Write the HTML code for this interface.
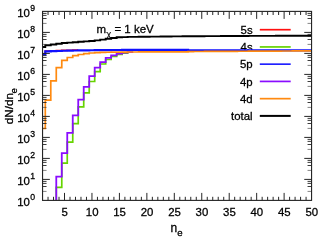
<!DOCTYPE html>
<html><head><meta charset="utf-8"><style>
html,body{margin:0;padding:0;background:#fff;}
svg{display:block;} text{stroke:#000;stroke-width:0.28px;} svg{will-change:transform;opacity:0.999;font-family:"Liberation Sans",sans-serif;}
</style></head><body>
<svg width="332" height="249" viewBox="0 0 332 249">
<rect width="332" height="249" fill="#fff"/>
<defs><clipPath id="c"><rect x="42.05" y="11.4" width="270.01" height="189.00"/></clipPath></defs>
<line x1="259.8" y1="29.70" x2="290.7" y2="29.70" stroke="#ff1010" stroke-width="1.7"/><text x="252.6" y="33.90" text-anchor="end" font-size="11.4">5s</text><line x1="259.8" y1="46.94" x2="290.7" y2="46.94" stroke="#66d400" stroke-width="1.7"/><text x="252.6" y="51.14" text-anchor="end" font-size="11.4">4s</text><line x1="259.8" y1="64.18" x2="290.7" y2="64.18" stroke="#2020ff" stroke-width="1.7"/><text x="252.6" y="68.38" text-anchor="end" font-size="11.4">5p</text><line x1="259.8" y1="81.42" x2="290.7" y2="81.42" stroke="#8a0cff" stroke-width="1.7"/><text x="252.6" y="85.62" text-anchor="end" font-size="11.4">4p</text><line x1="259.8" y1="98.66" x2="290.7" y2="98.66" stroke="#ff8a10" stroke-width="1.7"/><text x="252.6" y="102.86" text-anchor="end" font-size="11.4">4d</text><line x1="259.8" y1="115.90" x2="290.7" y2="115.90" stroke="#000" stroke-width="2.0"/><text x="252.6" y="120.10" text-anchor="end" font-size="11.4">total</text><text x="170.5" y="231.6" font-size="12">n<tspan font-size="9.6" dy="4.2">e</tspan></text><text transform="translate(13.1,124.2) rotate(-90)" font-size="11.7">dN/dn<tspan font-size="9.6" dy="4.0" dx="-0.5">e</tspan></text><text x="96.6" y="32.7" font-size="11.5">m<tspan font-size="9.6" dy="4.2" stroke-width="0.1">χ</tspan><tspan dy="-4.2"> = 1 keV</tspan></text><g clip-path="url(#c)"><path d="M56.27,200.40L56.27,187.40L61.77,187.40L61.77,163.20L67.25,163.20L67.25,142.20L72.75,142.20L72.75,123.60L78.23,123.60L78.23,106.90L83.72,106.90L83.72,92.80L89.22,92.80L89.22,81.50L94.70,81.50L94.70,71.60L100.19,71.60L100.19,64.00L105.69,64.00L105.69,59.50L111.17,59.50L111.17,56.30L116.67,56.30L116.67,54.30L122.16,54.30L122.16,53.10L127.64,53.10L127.64,52.22L133.13,52.22" fill="none" stroke="#66d400" stroke-width="1.7" stroke-linejoin="miter"/><path d="M42.55,54.00L45.29,54.00L45.29,51.00L50.78,51.00L50.78,50.80L56.27,50.80L56.27,50.60L61.77,50.60L61.77,50.35L67.25,50.35L67.25,50.20L72.75,50.20L72.75,50.10L78.23,50.10" fill="none" stroke="#ff1010" stroke-width="1.6" stroke-linejoin="miter"/><path d="M42.55,54.40L45.29,54.40L45.29,51.40L50.78,51.40L50.78,51.20L56.27,51.20L56.27,51.00L61.77,51.00L61.77,50.75L67.25,50.75L67.25,50.60L72.75,50.60L72.75,50.50L78.23,50.50L78.23,50.45L83.72,50.45L83.72,50.40L89.22,50.40L89.22,50.23L94.70,50.23L94.70,50.10L100.19,50.10L100.19,50.07L105.69,50.07L105.69,50.03L111.17,50.03L111.17,50.00L116.67,50.00L116.67,49.98L122.16,49.98L122.16,49.95L127.64,49.95L127.64,49.95L133.13,49.95L133.13,49.94L138.62,49.94L138.62,49.94L144.12,49.94L144.12,49.94L149.61,49.94L149.61,49.94L155.09,49.94L155.09,49.93L160.59,49.93L160.59,49.93L166.07,49.93L166.07,49.93L171.56,49.93L171.56,49.93L177.06,49.93L177.06,49.92L182.55,49.92L182.55,49.92L188.04,49.92L188.04,50.30L193.52,50.30L193.52,50.31L199.01,50.31L199.01,50.32L204.50,50.32L204.50,50.32L210.00,50.32L210.00,50.33L215.49,50.33L215.49,50.34L220.98,50.34L220.98,50.35L226.47,50.35L226.47,50.36L231.95,50.36L231.95,50.37L237.44,50.37L237.44,50.38L242.94,50.38L242.94,50.38L248.43,50.38L248.43,50.39L253.92,50.39L253.92,50.40L259.41,50.40L259.41,50.41L264.89,50.41L264.89,50.41L270.38,50.41L270.38,50.41L275.88,50.41L275.88,50.42L281.37,50.42L281.37,50.42L286.86,50.42L286.86,50.43L292.35,50.43L292.35,50.44L297.83,50.44L297.83,50.44L303.33,50.44L303.33,50.45L308.81,50.45L308.81,50.45L311.56,50.45" fill="none" stroke="#1010ff" stroke-width="2.2" stroke-linejoin="miter"/><path d="M56.27,200.40L56.27,176.60L61.77,176.60L61.77,153.20L67.25,153.20L67.25,132.80L72.75,132.80L72.75,115.40L78.23,115.40L78.23,99.70L83.72,99.70L83.72,86.80L89.22,86.80L89.22,76.10L94.70,76.10L94.70,67.70L100.19,67.70L100.19,62.10L105.69,62.10L105.69,57.90L111.17,57.90L111.17,55.40L116.67,55.40L116.67,53.70L122.16,53.70L122.16,52.70L127.64,52.70L127.64,52.22L133.13,52.22" fill="none" stroke="#8a0cff" stroke-width="1.8" stroke-linejoin="miter"/><path d="M42.55,128.50L45.29,128.50L45.29,100.10L50.78,100.10L50.78,80.80L56.27,80.80L56.27,67.70L61.77,67.70L61.77,60.30L67.25,60.30L67.25,57.50L72.75,57.50L72.75,55.70L78.23,55.70L78.23,54.50L83.72,54.50L83.72,53.60L89.22,53.60L89.22,53.00L94.70,53.00L94.70,52.60L100.19,52.60L100.19,52.30L105.69,52.30L105.69,52.24L111.17,52.24L111.17,52.17L116.67,52.17L116.67,52.11L122.16,52.11L122.16,52.05L127.64,52.05L127.64,52.02L133.13,52.02L133.13,51.99L138.62,51.99L138.62,51.96L144.12,51.96L144.12,51.93L149.61,51.93L149.61,51.90L155.09,51.90L155.09,51.87L160.59,51.87L160.59,51.86L166.07,51.86L166.07,51.84L171.56,51.84L171.56,51.83L177.06,51.83L177.06,51.81L182.55,51.81L182.55,51.80L188.04,51.80L188.04,51.55L193.52,51.55L193.52,51.52L199.01,51.52L199.01,51.49L204.50,51.49L204.50,51.46L210.00,51.46L210.00,51.42L215.49,51.42L215.49,51.39L220.98,51.39L220.98,51.36L226.47,51.36L226.47,51.33L231.95,51.33L231.95,51.30L237.44,51.30L237.44,51.27L242.94,51.27L242.94,51.24L248.43,51.24L248.43,51.20L253.92,51.20L253.92,51.17L259.41,51.17L259.41,51.14L264.89,51.14L264.89,51.11L270.38,51.11L270.38,51.07L275.88,51.07L275.88,51.04L281.37,51.04L281.37,51.01L286.86,51.01L286.86,50.98L292.35,50.98L292.35,50.95L297.83,50.95L297.83,50.91L303.33,50.91L303.33,50.88L308.81,50.88L308.81,50.85L311.56,50.85" fill="none" stroke="#ff8a10" stroke-width="1.7" stroke-linejoin="miter"/><path d="M42.55,47.00L45.29,47.00L45.29,45.30L50.78,45.30L50.78,44.50L56.27,44.50L56.27,43.80L61.77,43.80L61.77,43.00L67.25,43.00L67.25,42.60L72.75,42.60L72.75,42.20L78.23,42.20L78.23,41.80L83.72,41.80L83.72,41.40L89.22,41.40L89.22,41.00L94.70,41.00L94.70,40.40L100.19,40.40L100.19,39.60L105.69,39.60L105.69,38.80L111.17,38.80L111.17,38.00L116.67,38.00L116.67,37.30L122.16,37.30L122.16,37.10L127.64,37.10L127.64,36.90L133.13,36.90L133.13,36.83L138.62,36.83L138.62,36.77L144.12,36.77L144.12,36.70L149.61,36.70L149.61,36.64L155.09,36.64L155.09,36.58L160.59,36.58L160.59,36.52L166.07,36.52L166.07,36.46L171.56,36.46L171.56,36.40L177.06,36.40L177.06,36.36L182.55,36.36L182.55,36.32L188.04,36.32L188.04,36.28L193.52,36.28L193.52,36.24L199.01,36.24L199.01,36.20L204.50,36.20L204.50,36.16L210.00,36.16L210.00,36.12L215.49,36.12L215.49,36.08L220.98,36.08L220.98,36.04L226.47,36.04L226.47,36.00L231.95,36.00L231.95,35.98L237.44,35.98L237.44,35.96L242.94,35.96L242.94,35.94L248.43,35.94L248.43,35.92L253.92,35.92L253.92,35.90L259.41,35.90L259.41,35.88L264.89,35.88L264.89,35.86L270.38,35.86L270.38,35.84L275.88,35.84L275.88,35.82L281.37,35.82L281.37,35.80L286.86,35.80L286.86,35.78L292.35,35.78L292.35,35.76L297.83,35.76L297.83,35.74L303.33,35.74L303.33,35.72L308.81,35.72L308.81,35.70L311.56,35.70" fill="none" stroke="#000" stroke-width="1.9" stroke-linejoin="miter"/></g><rect x="42.55" y="11.4" width="269.01" height="189.00" fill="none" stroke="#262626" stroke-width="1.12"/><line x1="48.04" y1="200.40" x2="48.04" y2="196.80" stroke="#262626" stroke-width="1" stroke-opacity="1"/><line x1="48.04" y1="11.40" x2="48.04" y2="15.00" stroke="#262626" stroke-width="1" stroke-opacity="1"/><line x1="53.53" y1="200.40" x2="53.53" y2="196.80" stroke="#262626" stroke-width="1" stroke-opacity="1"/><line x1="53.53" y1="11.40" x2="53.53" y2="15.00" stroke="#262626" stroke-width="1" stroke-opacity="1"/><line x1="59.02" y1="200.40" x2="59.02" y2="196.80" stroke="#262626" stroke-width="1" stroke-opacity="1"/><line x1="59.02" y1="11.40" x2="59.02" y2="15.00" stroke="#262626" stroke-width="1" stroke-opacity="1"/><line x1="64.51" y1="200.40" x2="64.51" y2="192.90" stroke="#262626" stroke-width="1" stroke-opacity="1"/><line x1="64.51" y1="11.40" x2="64.51" y2="18.90" stroke="#262626" stroke-width="1" stroke-opacity="1"/><line x1="70.00" y1="200.40" x2="70.00" y2="196.80" stroke="#262626" stroke-width="1" stroke-opacity="1"/><line x1="70.00" y1="11.40" x2="70.00" y2="15.00" stroke="#262626" stroke-width="1" stroke-opacity="1"/><line x1="75.49" y1="200.40" x2="75.49" y2="196.80" stroke="#262626" stroke-width="1" stroke-opacity="1"/><line x1="75.49" y1="11.40" x2="75.49" y2="15.00" stroke="#262626" stroke-width="1" stroke-opacity="1"/><line x1="80.98" y1="200.40" x2="80.98" y2="196.80" stroke="#262626" stroke-width="1" stroke-opacity="1"/><line x1="80.98" y1="11.40" x2="80.98" y2="15.00" stroke="#262626" stroke-width="1" stroke-opacity="1"/><line x1="86.47" y1="200.40" x2="86.47" y2="196.80" stroke="#262626" stroke-width="1" stroke-opacity="1"/><line x1="86.47" y1="11.40" x2="86.47" y2="15.00" stroke="#262626" stroke-width="1" stroke-opacity="1"/><line x1="91.96" y1="200.40" x2="91.96" y2="192.90" stroke="#262626" stroke-width="1" stroke-opacity="1"/><line x1="91.96" y1="11.40" x2="91.96" y2="18.90" stroke="#262626" stroke-width="1" stroke-opacity="1"/><line x1="97.45" y1="200.40" x2="97.45" y2="196.80" stroke="#262626" stroke-width="1" stroke-opacity="1"/><line x1="97.45" y1="11.40" x2="97.45" y2="15.00" stroke="#262626" stroke-width="1" stroke-opacity="1"/><line x1="102.94" y1="200.40" x2="102.94" y2="196.80" stroke="#262626" stroke-width="1" stroke-opacity="1"/><line x1="102.94" y1="11.40" x2="102.94" y2="15.00" stroke="#262626" stroke-width="1" stroke-opacity="1"/><line x1="108.43" y1="200.40" x2="108.43" y2="196.80" stroke="#262626" stroke-width="1" stroke-opacity="1"/><line x1="108.43" y1="11.40" x2="108.43" y2="15.00" stroke="#262626" stroke-width="1" stroke-opacity="1"/><line x1="113.92" y1="200.40" x2="113.92" y2="196.80" stroke="#262626" stroke-width="1" stroke-opacity="1"/><line x1="113.92" y1="11.40" x2="113.92" y2="15.00" stroke="#262626" stroke-width="1" stroke-opacity="1"/><line x1="119.41" y1="200.40" x2="119.41" y2="192.90" stroke="#262626" stroke-width="1" stroke-opacity="1"/><line x1="119.41" y1="11.40" x2="119.41" y2="18.90" stroke="#262626" stroke-width="1" stroke-opacity="1"/><line x1="124.90" y1="200.40" x2="124.90" y2="196.80" stroke="#262626" stroke-width="1" stroke-opacity="1"/><line x1="124.90" y1="11.40" x2="124.90" y2="15.00" stroke="#262626" stroke-width="1" stroke-opacity="1"/><line x1="130.39" y1="200.40" x2="130.39" y2="196.80" stroke="#262626" stroke-width="1" stroke-opacity="1"/><line x1="130.39" y1="11.40" x2="130.39" y2="15.00" stroke="#262626" stroke-width="1" stroke-opacity="1"/><line x1="135.88" y1="200.40" x2="135.88" y2="196.80" stroke="#262626" stroke-width="1" stroke-opacity="1"/><line x1="135.88" y1="11.40" x2="135.88" y2="15.00" stroke="#262626" stroke-width="1" stroke-opacity="1"/><line x1="141.37" y1="200.40" x2="141.37" y2="196.80" stroke="#262626" stroke-width="1" stroke-opacity="1"/><line x1="141.37" y1="11.40" x2="141.37" y2="15.00" stroke="#262626" stroke-width="1" stroke-opacity="1"/><line x1="146.86" y1="200.40" x2="146.86" y2="192.90" stroke="#262626" stroke-width="1" stroke-opacity="1"/><line x1="146.86" y1="11.40" x2="146.86" y2="18.90" stroke="#262626" stroke-width="1" stroke-opacity="1"/><line x1="152.35" y1="200.40" x2="152.35" y2="196.80" stroke="#262626" stroke-width="1" stroke-opacity="1"/><line x1="152.35" y1="11.40" x2="152.35" y2="15.00" stroke="#262626" stroke-width="1" stroke-opacity="1"/><line x1="157.84" y1="200.40" x2="157.84" y2="196.80" stroke="#262626" stroke-width="1" stroke-opacity="1"/><line x1="157.84" y1="11.40" x2="157.84" y2="15.00" stroke="#262626" stroke-width="1" stroke-opacity="1"/><line x1="163.33" y1="200.40" x2="163.33" y2="196.80" stroke="#262626" stroke-width="1" stroke-opacity="1"/><line x1="163.33" y1="11.40" x2="163.33" y2="15.00" stroke="#262626" stroke-width="1" stroke-opacity="1"/><line x1="168.82" y1="200.40" x2="168.82" y2="196.80" stroke="#262626" stroke-width="1" stroke-opacity="1"/><line x1="168.82" y1="11.40" x2="168.82" y2="15.00" stroke="#262626" stroke-width="1" stroke-opacity="1"/><line x1="174.31" y1="200.40" x2="174.31" y2="192.90" stroke="#262626" stroke-width="1" stroke-opacity="1"/><line x1="174.31" y1="11.40" x2="174.31" y2="18.90" stroke="#262626" stroke-width="1" stroke-opacity="1"/><line x1="179.80" y1="200.40" x2="179.80" y2="196.80" stroke="#262626" stroke-width="1" stroke-opacity="1"/><line x1="179.80" y1="11.40" x2="179.80" y2="15.00" stroke="#262626" stroke-width="1" stroke-opacity="1"/><line x1="185.29" y1="200.40" x2="185.29" y2="196.80" stroke="#262626" stroke-width="1" stroke-opacity="1"/><line x1="185.29" y1="11.40" x2="185.29" y2="15.00" stroke="#262626" stroke-width="1" stroke-opacity="1"/><line x1="190.78" y1="200.40" x2="190.78" y2="196.80" stroke="#262626" stroke-width="1" stroke-opacity="1"/><line x1="190.78" y1="11.40" x2="190.78" y2="15.00" stroke="#262626" stroke-width="1" stroke-opacity="1"/><line x1="196.27" y1="200.40" x2="196.27" y2="196.80" stroke="#262626" stroke-width="1" stroke-opacity="1"/><line x1="196.27" y1="11.40" x2="196.27" y2="15.00" stroke="#262626" stroke-width="1" stroke-opacity="1"/><line x1="201.76" y1="200.40" x2="201.76" y2="192.90" stroke="#262626" stroke-width="1" stroke-opacity="1"/><line x1="201.76" y1="11.40" x2="201.76" y2="18.90" stroke="#262626" stroke-width="1" stroke-opacity="1"/><line x1="207.25" y1="200.40" x2="207.25" y2="196.80" stroke="#262626" stroke-width="1" stroke-opacity="1"/><line x1="207.25" y1="11.40" x2="207.25" y2="15.00" stroke="#262626" stroke-width="1" stroke-opacity="1"/><line x1="212.74" y1="200.40" x2="212.74" y2="196.80" stroke="#262626" stroke-width="1" stroke-opacity="1"/><line x1="212.74" y1="11.40" x2="212.74" y2="15.00" stroke="#262626" stroke-width="1" stroke-opacity="1"/><line x1="218.23" y1="200.40" x2="218.23" y2="196.80" stroke="#262626" stroke-width="1" stroke-opacity="1"/><line x1="218.23" y1="11.40" x2="218.23" y2="15.00" stroke="#262626" stroke-width="1" stroke-opacity="1"/><line x1="223.72" y1="200.40" x2="223.72" y2="196.80" stroke="#262626" stroke-width="1" stroke-opacity="1"/><line x1="223.72" y1="11.40" x2="223.72" y2="15.00" stroke="#262626" stroke-width="1" stroke-opacity="1"/><line x1="229.21" y1="200.40" x2="229.21" y2="192.90" stroke="#262626" stroke-width="1" stroke-opacity="1"/><line x1="229.21" y1="11.40" x2="229.21" y2="18.90" stroke="#262626" stroke-width="1" stroke-opacity="1"/><line x1="234.70" y1="200.40" x2="234.70" y2="196.80" stroke="#262626" stroke-width="1" stroke-opacity="1"/><line x1="234.70" y1="11.40" x2="234.70" y2="15.00" stroke="#262626" stroke-width="1" stroke-opacity="1"/><line x1="240.19" y1="200.40" x2="240.19" y2="196.80" stroke="#262626" stroke-width="1" stroke-opacity="1"/><line x1="240.19" y1="11.40" x2="240.19" y2="15.00" stroke="#262626" stroke-width="1" stroke-opacity="1"/><line x1="245.68" y1="200.40" x2="245.68" y2="196.80" stroke="#262626" stroke-width="1" stroke-opacity="1"/><line x1="245.68" y1="11.40" x2="245.68" y2="15.00" stroke="#262626" stroke-width="1" stroke-opacity="1"/><line x1="251.17" y1="200.40" x2="251.17" y2="196.80" stroke="#262626" stroke-width="1" stroke-opacity="1"/><line x1="251.17" y1="11.40" x2="251.17" y2="15.00" stroke="#262626" stroke-width="1" stroke-opacity="1"/><line x1="256.66" y1="200.40" x2="256.66" y2="192.90" stroke="#262626" stroke-width="1" stroke-opacity="1"/><line x1="256.66" y1="11.40" x2="256.66" y2="18.90" stroke="#262626" stroke-width="1" stroke-opacity="1"/><line x1="262.15" y1="200.40" x2="262.15" y2="196.80" stroke="#262626" stroke-width="1" stroke-opacity="1"/><line x1="262.15" y1="11.40" x2="262.15" y2="15.00" stroke="#262626" stroke-width="1" stroke-opacity="1"/><line x1="267.64" y1="200.40" x2="267.64" y2="196.80" stroke="#262626" stroke-width="1" stroke-opacity="1"/><line x1="267.64" y1="11.40" x2="267.64" y2="15.00" stroke="#262626" stroke-width="1" stroke-opacity="1"/><line x1="273.13" y1="200.40" x2="273.13" y2="196.80" stroke="#262626" stroke-width="1" stroke-opacity="1"/><line x1="273.13" y1="11.40" x2="273.13" y2="15.00" stroke="#262626" stroke-width="1" stroke-opacity="1"/><line x1="278.62" y1="200.40" x2="278.62" y2="196.80" stroke="#262626" stroke-width="1" stroke-opacity="1"/><line x1="278.62" y1="11.40" x2="278.62" y2="15.00" stroke="#262626" stroke-width="1" stroke-opacity="1"/><line x1="284.11" y1="200.40" x2="284.11" y2="192.90" stroke="#262626" stroke-width="1" stroke-opacity="1"/><line x1="284.11" y1="11.40" x2="284.11" y2="18.90" stroke="#262626" stroke-width="1" stroke-opacity="1"/><line x1="289.60" y1="200.40" x2="289.60" y2="196.80" stroke="#262626" stroke-width="1" stroke-opacity="1"/><line x1="289.60" y1="11.40" x2="289.60" y2="15.00" stroke="#262626" stroke-width="1" stroke-opacity="1"/><line x1="295.09" y1="200.40" x2="295.09" y2="196.80" stroke="#262626" stroke-width="1" stroke-opacity="1"/><line x1="295.09" y1="11.40" x2="295.09" y2="15.00" stroke="#262626" stroke-width="1" stroke-opacity="1"/><line x1="300.58" y1="200.40" x2="300.58" y2="196.80" stroke="#262626" stroke-width="1" stroke-opacity="1"/><line x1="300.58" y1="11.40" x2="300.58" y2="15.00" stroke="#262626" stroke-width="1" stroke-opacity="1"/><line x1="306.07" y1="200.40" x2="306.07" y2="196.80" stroke="#262626" stroke-width="1" stroke-opacity="1"/><line x1="306.07" y1="11.40" x2="306.07" y2="15.00" stroke="#262626" stroke-width="1" stroke-opacity="1"/><line x1="42.55" y1="191.40" x2="46.55" y2="191.40" stroke="#262626" stroke-width="0.95" stroke-opacity="0.6"/><line x1="311.56" y1="191.40" x2="307.56" y2="191.40" stroke="#262626" stroke-width="0.95" stroke-opacity="0.6"/><line x1="42.55" y1="186.50" x2="46.55" y2="186.50" stroke="#262626" stroke-width="0.95" stroke-opacity="0.95"/><line x1="311.56" y1="186.50" x2="307.56" y2="186.50" stroke="#262626" stroke-width="0.95" stroke-opacity="0.95"/><line x1="42.55" y1="183.40" x2="46.55" y2="183.40" stroke="#262626" stroke-width="0.95" stroke-opacity="0.95"/><line x1="311.56" y1="183.40" x2="307.56" y2="183.40" stroke="#262626" stroke-width="0.95" stroke-opacity="0.95"/><line x1="42.55" y1="181.40" x2="46.55" y2="181.40" stroke="#262626" stroke-width="0.95" stroke-opacity="0.95"/><line x1="311.56" y1="181.40" x2="307.56" y2="181.40" stroke="#262626" stroke-width="0.95" stroke-opacity="0.95"/><line x1="42.55" y1="179.40" x2="49.85" y2="179.40" stroke="#262626" stroke-width="1.0" stroke-opacity="1"/><line x1="311.56" y1="179.40" x2="304.26" y2="179.40" stroke="#262626" stroke-width="1.0" stroke-opacity="1"/><line x1="42.55" y1="170.40" x2="46.55" y2="170.40" stroke="#262626" stroke-width="0.95" stroke-opacity="0.6"/><line x1="311.56" y1="170.40" x2="307.56" y2="170.40" stroke="#262626" stroke-width="0.95" stroke-opacity="0.6"/><line x1="42.55" y1="165.50" x2="46.55" y2="165.50" stroke="#262626" stroke-width="0.95" stroke-opacity="0.95"/><line x1="311.56" y1="165.50" x2="307.56" y2="165.50" stroke="#262626" stroke-width="0.95" stroke-opacity="0.95"/><line x1="42.55" y1="162.40" x2="46.55" y2="162.40" stroke="#262626" stroke-width="0.95" stroke-opacity="0.95"/><line x1="311.56" y1="162.40" x2="307.56" y2="162.40" stroke="#262626" stroke-width="0.95" stroke-opacity="0.95"/><line x1="42.55" y1="160.40" x2="46.55" y2="160.40" stroke="#262626" stroke-width="0.95" stroke-opacity="0.95"/><line x1="311.56" y1="160.40" x2="307.56" y2="160.40" stroke="#262626" stroke-width="0.95" stroke-opacity="0.95"/><line x1="42.55" y1="158.40" x2="49.85" y2="158.40" stroke="#262626" stroke-width="1.0" stroke-opacity="1"/><line x1="311.56" y1="158.40" x2="304.26" y2="158.40" stroke="#262626" stroke-width="1.0" stroke-opacity="1"/><line x1="42.55" y1="149.40" x2="46.55" y2="149.40" stroke="#262626" stroke-width="0.95" stroke-opacity="0.6"/><line x1="311.56" y1="149.40" x2="307.56" y2="149.40" stroke="#262626" stroke-width="0.95" stroke-opacity="0.6"/><line x1="42.55" y1="144.50" x2="46.55" y2="144.50" stroke="#262626" stroke-width="0.95" stroke-opacity="0.95"/><line x1="311.56" y1="144.50" x2="307.56" y2="144.50" stroke="#262626" stroke-width="0.95" stroke-opacity="0.95"/><line x1="42.55" y1="141.40" x2="46.55" y2="141.40" stroke="#262626" stroke-width="0.95" stroke-opacity="0.95"/><line x1="311.56" y1="141.40" x2="307.56" y2="141.40" stroke="#262626" stroke-width="0.95" stroke-opacity="0.95"/><line x1="42.55" y1="139.40" x2="46.55" y2="139.40" stroke="#262626" stroke-width="0.95" stroke-opacity="0.95"/><line x1="311.56" y1="139.40" x2="307.56" y2="139.40" stroke="#262626" stroke-width="0.95" stroke-opacity="0.95"/><line x1="42.55" y1="137.40" x2="49.85" y2="137.40" stroke="#262626" stroke-width="1.0" stroke-opacity="1"/><line x1="311.56" y1="137.40" x2="304.26" y2="137.40" stroke="#262626" stroke-width="1.0" stroke-opacity="1"/><line x1="42.55" y1="128.40" x2="46.55" y2="128.40" stroke="#262626" stroke-width="0.95" stroke-opacity="0.6"/><line x1="311.56" y1="128.40" x2="307.56" y2="128.40" stroke="#262626" stroke-width="0.95" stroke-opacity="0.6"/><line x1="42.55" y1="123.50" x2="46.55" y2="123.50" stroke="#262626" stroke-width="0.95" stroke-opacity="0.95"/><line x1="311.56" y1="123.50" x2="307.56" y2="123.50" stroke="#262626" stroke-width="0.95" stroke-opacity="0.95"/><line x1="42.55" y1="120.40" x2="46.55" y2="120.40" stroke="#262626" stroke-width="0.95" stroke-opacity="0.95"/><line x1="311.56" y1="120.40" x2="307.56" y2="120.40" stroke="#262626" stroke-width="0.95" stroke-opacity="0.95"/><line x1="42.55" y1="118.40" x2="46.55" y2="118.40" stroke="#262626" stroke-width="0.95" stroke-opacity="0.95"/><line x1="311.56" y1="118.40" x2="307.56" y2="118.40" stroke="#262626" stroke-width="0.95" stroke-opacity="0.95"/><line x1="42.55" y1="116.40" x2="49.85" y2="116.40" stroke="#262626" stroke-width="1.0" stroke-opacity="1"/><line x1="311.56" y1="116.40" x2="304.26" y2="116.40" stroke="#262626" stroke-width="1.0" stroke-opacity="1"/><line x1="42.55" y1="107.40" x2="46.55" y2="107.40" stroke="#262626" stroke-width="0.95" stroke-opacity="0.6"/><line x1="311.56" y1="107.40" x2="307.56" y2="107.40" stroke="#262626" stroke-width="0.95" stroke-opacity="0.6"/><line x1="42.55" y1="102.50" x2="46.55" y2="102.50" stroke="#262626" stroke-width="0.95" stroke-opacity="0.95"/><line x1="311.56" y1="102.50" x2="307.56" y2="102.50" stroke="#262626" stroke-width="0.95" stroke-opacity="0.95"/><line x1="42.55" y1="99.40" x2="46.55" y2="99.40" stroke="#262626" stroke-width="0.95" stroke-opacity="0.95"/><line x1="311.56" y1="99.40" x2="307.56" y2="99.40" stroke="#262626" stroke-width="0.95" stroke-opacity="0.95"/><line x1="42.55" y1="97.40" x2="46.55" y2="97.40" stroke="#262626" stroke-width="0.95" stroke-opacity="0.95"/><line x1="311.56" y1="97.40" x2="307.56" y2="97.40" stroke="#262626" stroke-width="0.95" stroke-opacity="0.95"/><line x1="42.55" y1="95.40" x2="49.85" y2="95.40" stroke="#262626" stroke-width="1.0" stroke-opacity="1"/><line x1="311.56" y1="95.40" x2="304.26" y2="95.40" stroke="#262626" stroke-width="1.0" stroke-opacity="1"/><line x1="42.55" y1="86.40" x2="46.55" y2="86.40" stroke="#262626" stroke-width="0.95" stroke-opacity="0.6"/><line x1="311.56" y1="86.40" x2="307.56" y2="86.40" stroke="#262626" stroke-width="0.95" stroke-opacity="0.6"/><line x1="42.55" y1="81.50" x2="46.55" y2="81.50" stroke="#262626" stroke-width="0.95" stroke-opacity="0.95"/><line x1="311.56" y1="81.50" x2="307.56" y2="81.50" stroke="#262626" stroke-width="0.95" stroke-opacity="0.95"/><line x1="42.55" y1="78.40" x2="46.55" y2="78.40" stroke="#262626" stroke-width="0.95" stroke-opacity="0.95"/><line x1="311.56" y1="78.40" x2="307.56" y2="78.40" stroke="#262626" stroke-width="0.95" stroke-opacity="0.95"/><line x1="42.55" y1="76.40" x2="46.55" y2="76.40" stroke="#262626" stroke-width="0.95" stroke-opacity="0.95"/><line x1="311.56" y1="76.40" x2="307.56" y2="76.40" stroke="#262626" stroke-width="0.95" stroke-opacity="0.95"/><line x1="42.55" y1="74.40" x2="49.85" y2="74.40" stroke="#262626" stroke-width="1.0" stroke-opacity="1"/><line x1="311.56" y1="74.40" x2="304.26" y2="74.40" stroke="#262626" stroke-width="1.0" stroke-opacity="1"/><line x1="42.55" y1="65.40" x2="46.55" y2="65.40" stroke="#262626" stroke-width="0.95" stroke-opacity="0.6"/><line x1="311.56" y1="65.40" x2="307.56" y2="65.40" stroke="#262626" stroke-width="0.95" stroke-opacity="0.6"/><line x1="42.55" y1="60.50" x2="46.55" y2="60.50" stroke="#262626" stroke-width="0.95" stroke-opacity="0.95"/><line x1="311.56" y1="60.50" x2="307.56" y2="60.50" stroke="#262626" stroke-width="0.95" stroke-opacity="0.95"/><line x1="42.55" y1="57.40" x2="46.55" y2="57.40" stroke="#262626" stroke-width="0.95" stroke-opacity="0.95"/><line x1="311.56" y1="57.40" x2="307.56" y2="57.40" stroke="#262626" stroke-width="0.95" stroke-opacity="0.95"/><line x1="42.55" y1="55.40" x2="46.55" y2="55.40" stroke="#262626" stroke-width="0.95" stroke-opacity="0.95"/><line x1="311.56" y1="55.40" x2="307.56" y2="55.40" stroke="#262626" stroke-width="0.95" stroke-opacity="0.95"/><line x1="42.55" y1="53.40" x2="49.85" y2="53.40" stroke="#262626" stroke-width="1.0" stroke-opacity="1"/><line x1="311.56" y1="53.40" x2="304.26" y2="53.40" stroke="#262626" stroke-width="1.0" stroke-opacity="1"/><line x1="42.55" y1="44.40" x2="46.55" y2="44.40" stroke="#262626" stroke-width="0.95" stroke-opacity="0.6"/><line x1="311.56" y1="44.40" x2="307.56" y2="44.40" stroke="#262626" stroke-width="0.95" stroke-opacity="0.6"/><line x1="42.55" y1="39.50" x2="46.55" y2="39.50" stroke="#262626" stroke-width="0.95" stroke-opacity="0.95"/><line x1="311.56" y1="39.50" x2="307.56" y2="39.50" stroke="#262626" stroke-width="0.95" stroke-opacity="0.95"/><line x1="42.55" y1="36.40" x2="46.55" y2="36.40" stroke="#262626" stroke-width="0.95" stroke-opacity="0.95"/><line x1="311.56" y1="36.40" x2="307.56" y2="36.40" stroke="#262626" stroke-width="0.95" stroke-opacity="0.95"/><line x1="42.55" y1="34.40" x2="46.55" y2="34.40" stroke="#262626" stroke-width="0.95" stroke-opacity="0.95"/><line x1="311.56" y1="34.40" x2="307.56" y2="34.40" stroke="#262626" stroke-width="0.95" stroke-opacity="0.95"/><line x1="42.55" y1="32.40" x2="49.85" y2="32.40" stroke="#262626" stroke-width="1.0" stroke-opacity="1"/><line x1="311.56" y1="32.40" x2="304.26" y2="32.40" stroke="#262626" stroke-width="1.0" stroke-opacity="1"/><line x1="42.55" y1="23.40" x2="46.55" y2="23.40" stroke="#262626" stroke-width="0.95" stroke-opacity="0.6"/><line x1="311.56" y1="23.40" x2="307.56" y2="23.40" stroke="#262626" stroke-width="0.95" stroke-opacity="0.6"/><line x1="42.55" y1="18.50" x2="46.55" y2="18.50" stroke="#262626" stroke-width="0.95" stroke-opacity="0.95"/><line x1="311.56" y1="18.50" x2="307.56" y2="18.50" stroke="#262626" stroke-width="0.95" stroke-opacity="0.95"/><line x1="42.55" y1="15.40" x2="46.55" y2="15.40" stroke="#262626" stroke-width="0.95" stroke-opacity="0.95"/><line x1="311.56" y1="15.40" x2="307.56" y2="15.40" stroke="#262626" stroke-width="0.95" stroke-opacity="0.95"/><line x1="42.55" y1="13.40" x2="46.55" y2="13.40" stroke="#262626" stroke-width="0.95" stroke-opacity="0.95"/><line x1="311.56" y1="13.40" x2="307.56" y2="13.40" stroke="#262626" stroke-width="0.95" stroke-opacity="0.95"/><text x="64.71" y="216.2" text-anchor="middle" font-size="11.4">5</text><text x="92.16" y="216.2" text-anchor="middle" font-size="11.4">10</text><text x="119.61" y="216.2" text-anchor="middle" font-size="11.4">15</text><text x="147.06" y="216.2" text-anchor="middle" font-size="11.4">20</text><text x="174.51" y="216.2" text-anchor="middle" font-size="11.4">25</text><text x="201.96" y="216.2" text-anchor="middle" font-size="11.4">30</text><text x="229.41" y="216.2" text-anchor="middle" font-size="11.4">35</text><text x="256.86" y="216.2" text-anchor="middle" font-size="11.4">40</text><text x="284.31" y="216.2" text-anchor="middle" font-size="11.4">45</text><text x="311.76" y="216.2" text-anchor="middle" font-size="11.4">50</text><text x="29.9" y="205.50" text-anchor="end" font-size="11.4">10</text><text x="30.3" y="200.10" font-size="8.7">0</text><text x="29.9" y="184.50" text-anchor="end" font-size="11.4">10</text><text x="30.3" y="179.10" font-size="8.7">1</text><text x="29.9" y="163.50" text-anchor="end" font-size="11.4">10</text><text x="30.3" y="158.10" font-size="8.7">2</text><text x="29.9" y="142.50" text-anchor="end" font-size="11.4">10</text><text x="30.3" y="137.10" font-size="8.7">3</text><text x="29.9" y="121.50" text-anchor="end" font-size="11.4">10</text><text x="30.3" y="116.10" font-size="8.7">4</text><text x="29.9" y="100.50" text-anchor="end" font-size="11.4">10</text><text x="30.3" y="95.10" font-size="8.7">5</text><text x="29.9" y="79.50" text-anchor="end" font-size="11.4">10</text><text x="30.3" y="74.10" font-size="8.7">6</text><text x="29.9" y="58.50" text-anchor="end" font-size="11.4">10</text><text x="30.3" y="53.10" font-size="8.7">7</text><text x="29.9" y="37.50" text-anchor="end" font-size="11.4">10</text><text x="30.3" y="32.10" font-size="8.7">8</text><text x="29.9" y="16.50" text-anchor="end" font-size="11.4">10</text><text x="30.3" y="11.10" font-size="8.7">9</text>
</svg></body></html>
